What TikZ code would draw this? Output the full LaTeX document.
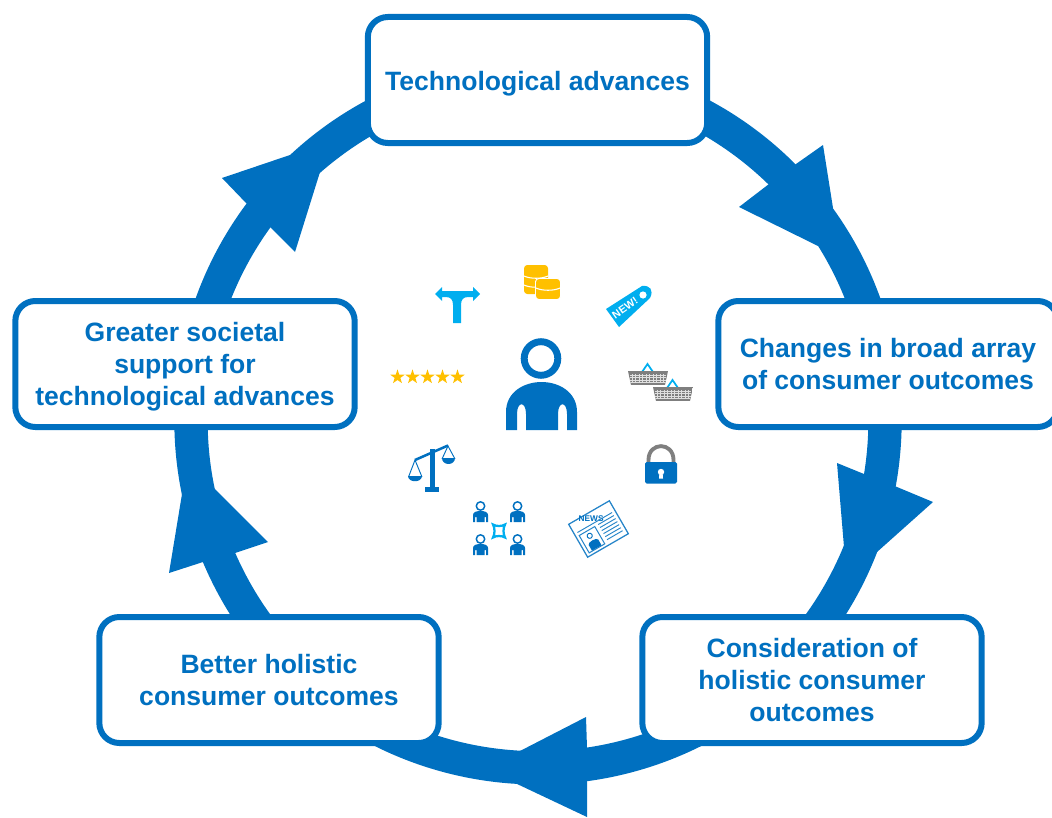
\documentclass[tikz,border=0pt]{standalone}
\usepackage{fontspec}
\setmainfont{Liberation Sans}
\usetikzlibrary{backgrounds}
\definecolor{mainblue}{HTML}{0070C0}
\definecolor{skyblue}{HTML}{00AEEF}
\definecolor{gold}{HTML}{FFC000}
\definecolor{midgray}{HTML}{7F7F7F}
\newcommand{\lift}{\rule{0pt}{19.5pt}}
\tikzset{
  stagebox/.style={draw=mainblue,line width=4.5pt,fill=white,rounded corners=15pt,
    minimum width=254.5pt,minimum height=94.5pt,inner sep=0pt,align=center,text=mainblue,
    font=\bfseries\fontsize{19.9}{24}\selectfont,execute at begin node=\lift},
  ringarc/.style={draw=mainblue,line width=25pt},
  headfill/.style={fill=mainblue},
}
\newcommand{\tinyperson}[2]{%
  \begin{scope}[shift={(#1,#2)}]
    \draw[mainblue,line width=1.1pt] (0,-7) circle[radius=4.2];
    \fill[mainblue] (-7.5,9) -- (-7.5,2) .. controls (-7.5,-1) and (-4,-2) .. (0,-2)
      .. controls (4,-2) and (7.5,-1) .. (7.5,2) -- (7.5,9) -- (5.5,9) -- (5.5,4) -- (4,4) -- (4,9)
      -- (-4,9) -- (-4,4) -- (-5.5,4) -- (-5.5,9) -- cycle;
  \end{scope}}
\newcommand{\goldstar}[1]{%
  \begin{scope}[shift={(#1,377)}]
    \fill[gold] (-90:7.6) -- (-54:3) -- (-18:7.6) -- (18:3) -- (54:7.6) -- (90:3)
      -- (126:7.6) -- (162:3) -- (198:7.6) -- (234:3) -- cycle;
  \end{scope}}
\newcommand{\basket}[2]{%
  \begin{scope}[shift={(#1,#2)}]
    \draw[skyblue,line width=1.3pt] (14,1) -- (19.5,-7) -- (25,1);
    \begin{scope}
      \clip (0,0) -- (40,0) -- (37,14) -- (3,14) -- cycle;
      \fill[midgray] (0,0) rectangle (40,14);
      \foreach \gx in {4,7.5,...,37} \draw[white!75!midgray,line width=.45pt] (\gx,3) -- (\gx,12);
      \foreach \gy in {4,6.5,9,11.5} \draw[white!75!midgray,line width=.45pt] (2,\gy) -- (38,\gy);
    \end{scope}
  \end{scope}}
\begin{document}
\begin{tikzpicture}[x=0.75pt,y=-0.75pt]
\useasboundingbox (0,0) rectangle (1052,817);
\clip (0,0) rectangle (1052,817);

% stages
\node[stagebox] (tech) at (537.5,80) {Technological advances};
\node[stagebox] (changes) at (888,364) {Changes in broad array\\of consumer outcomes};
\node[stagebox] (consider) at (812,680) {Consideration of\\holistic consumer\\outcomes};
\node[stagebox] (better) at (269,680) {Better holistic\\consumer outcomes};
\node[stagebox] (support) at (185,364) {\rule{0pt}{18.7pt}Greater societal\\support for\\technological advances};

% ring ends, hidden behind the boxes
\coordinate (techout) at (690.1,109.1);
\coordinate (changesin) at (873.2,331.2);
\coordinate (changesout) at (883.7,390.8);
\coordinate (considerin) at (811.4,634.6);
\coordinate (considerout) at (721.9,715.3);
\coordinate (betterin) at (354.1,715.3);
\coordinate (betterout) at (264.6,634.6);
\coordinate (supportin) at (192.3,390.8);
\coordinate (supportout) at (202.8,331.2);
\coordinate (techin) at (385.9,109.1);

\begin{pgfonlayer}{background}
  \draw[ringarc] (techout) to[out=-26,in=105,looseness=.8916] (changesin);
  \draw[ringarc] (changesout) to[out=-85,in=52,looseness=.8823] (considerin);
  \draw[ringarc] (considerout) to[out=-148,in=-32,looseness=.9215] (betterin);
  \draw[ringarc] (betterout) to[out=128,in=-95,looseness=.8823] (supportin);
  \draw[ringarc] (supportout) to[out=75,in=206,looseness=.8916] (techin);
  % arrowheads
  \fill[headfill] (796,164) -- (823,145) -- (833,208) -- (818,246) -- (739,207) -- (769,184) -- cycle;
  \fill[headfill] (864,474) -- (837,463) -- (844,547) -- (877,552) -- (933,502) -- (897,487) -- cycle;
  \fill[headfill] (587,748) -- (586,717) -- (518,752) -- (515,783) -- (587,817) -- (587,781) -- cycle;
  \fill[headfill] (203,562) -- (169,573) -- (182,494) -- (214,488) -- (268,542) -- (235,553) -- cycle;
  \fill[headfill] (247,204) -- (222,178) -- (290,155) -- (320,172) -- (295,252) -- (270,227) -- cycle;
\end{pgfonlayer}

% central person
\draw[mainblue,line width=5.2pt] (541,358.5) circle[radius=16.8];
\fill[mainblue] (506,430) -- (506,412) .. controls (506,392) and (524,382) .. (541.5,382)
  .. controls (559,382) and (577,392) .. (577,412) -- (577,430) -- (567,430) -- (567,414)
  .. controls (567,401) and (558,401) .. (558,414) -- (558,430) -- (526,430) -- (526,414)
  .. controls (526,401) and (517,401) .. (517,414) -- (517,430) -- cycle;

% coins
\fill[gold,rounded corners=2.5pt] (524,265) rectangle (548,294);
\draw[white,line width=.8pt] (524,276) .. controls (530,279) and (542,279) .. (548,276);
\draw[white,line width=.8pt] (524,285) .. controls (530,288) and (542,288) .. (548,285);
\fill[gold,draw=white,line width=.7pt,rounded corners=2.5pt] (535.5,278.5) rectangle (560.5,299.5);
\draw[white,line width=.8pt] (536,288) .. controls (542,291) and (554,291) .. (560,288);

% split arrow
\fill[skyblue] (453,323) -- (453,305) .. controls (453,300) and (451,297) .. (446,297)
  -- (442,297) -- (442,301) -- (435,294) -- (442,287) -- (442,291) -- (473,291) -- (473,287) -- (480,294)
  -- (473,301) -- (473,297) -- (468,297) .. controls (463,297) and (461,300) .. (461,305) -- (461,323) -- cycle;

% new tag
\fill[skyblue] (606,309) -- (619,327) -- (650,298) .. controls (654,290) and (650,285) .. (642,286) -- cycle;
\fill[white] (643,295) circle[radius=3.6];
\node[rotate=35,text=white,font=\bfseries\fontsize{8}{8}\selectfont\addfontfeature{Kerning=Off},inner sep=0pt] (newlabel) at (625,308) {NEW!};

% baskets
\basket{628}{371}
\basket{653}{387}

% stars
\foreach \sx in {397.5,412.5,427.5,442.5,457.5} {\goldstar{\sx}}

% lock
\draw[midgray,line width=2.9pt] (648.5,464) -- (648.5,460) .. controls (648.5,441.5) and (673.5,441.5) .. (673.5,460) -- (673.5,464);
\fill[mainblue,rounded corners=1.2pt] (645,462) rectangle (677,483.5);
\fill[white] (661,472) circle[radius=3.2];
\fill[white] (659.5,472) -- (662.5,472) -- (663,478.5) -- (659,478.5) -- cycle;

% scales
\fill[mainblue] (430,449) rectangle (434.5,488);
\fill[mainblue] (425,487) rectangle (438.5,492);
\draw[mainblue,line width=1.9pt] (415,460) -- (448,445.5);
\draw[mainblue,line width=.7pt] (408.5,477) -- (415,460) -- (422,477);
\draw[mainblue,line width=.7pt] (442,459) -- (448,446) -- (455,459);
\fill[mainblue] (408,476) .. controls (408,483) and (422,483) .. (422,476) -- cycle;
\fill[mainblue] (442,458) .. controls (442,466) and (455,466) .. (455,458) -- cycle;

% network of people
\tinyperson{480.5}{513}
\tinyperson{517.5}{513}
\tinyperson{480.5}{546}
\tinyperson{517.5}{546}
\draw[skyblue,line width=1.7pt] (493,524.5) .. controls (496,526.5) and (502,526.5) .. (505,524.5)
  .. controls (503,528) and (503,534) .. (505,537.5)
  .. controls (502,535.5) and (496,535.5) .. (493,537.5)
  .. controls (495,534) and (495,528) .. (493,524.5) -- cycle;

% newspaper
\begin{scope}[shift={(598.5,529)},rotate=30]
  \draw[mainblue!85,line width=.95pt,fill=white] (-23.5,-19) rectangle (23.5,19);
  \node[text=mainblue,font=\bfseries\fontsize{6.2}{7}\selectfont,inner sep=0pt] (newstitle) at (-1,-13) {NEWS};
  \draw[mainblue!85,line width=.7pt] (-20,-7.5) -- (20,-7.5);
  \draw[mainblue!85,line width=.75pt] (-20,-4) rectangle (-2,16);
  \foreach \ly in {-4,-.5,3,6.5,10,13.5} \draw[mainblue!85,line width=.7pt] (2,\ly) -- (20,\ly);
  \draw[mainblue,line width=.7pt] (-11,1.5) circle[radius=2.6];
  \fill[mainblue] (-16.5,15.5) -- (-16.5,9) .. controls (-16.5,6) and (-5.5,6) .. (-5.5,9) -- (-5.5,15.5) -- cycle;
\end{scope}
\end{tikzpicture}
\end{document}
